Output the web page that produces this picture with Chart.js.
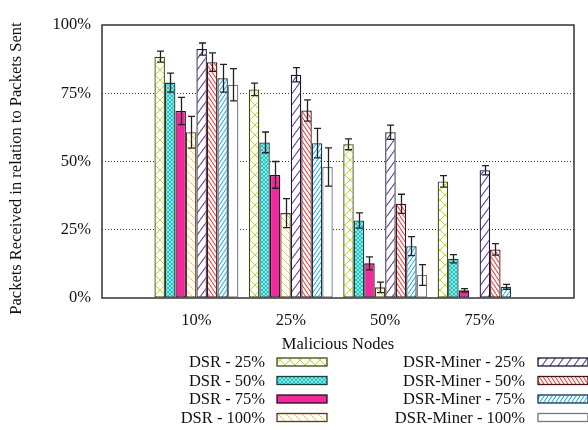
<!DOCTYPE html>
<html>
<head>
<meta charset="utf-8">
<script src="https://cdn.jsdelivr.net/npm/chart.js@4.4.0/dist/chart.umd.min.js"></script>
<style>
  body { margin: 0; background: #fff; }
  #wrap { width: 588px; height: 430px; }
</style>
</head>
<body>
<div id="wrap"><canvas id="myChart"></canvas></div>
<script>
// data
const grupos = ['10%', '25%', '50%', '75%'];
const yTicks = [0, 25, 50, 75, 100];
const yTitulo = 'Packets Received in relation to Packets Sent';

const dsr25 = [88.4, 76.4, 56.3, 42.7];
const dsr50 = [78.9, 57.0, 28.4, 14.4];
const dsr75 = [68.5, 45.1, 12.7, 2.8];
const dsr100 = [60.7, 31.1, 3.9, 0];
const miner25 = [91.2, 81.8, 60.7, 46.8];
const miner50 = [86.4, 68.7, 34.5, 17.8];
const miner75 = [80.5, 56.7, 19.0, 4.1];
const miner100 = [78.1, 48.0, 8.4, 0];

const dsr25Err = [2.0, 2.3, 2.0, 2.1];
const dsr50Err = [3.5, 3.8, 2.8, 1.5];
const dsr75Err = [5.0, 4.9, 2.4, 0.6];
const dsr100Err = [5.8, 5.3, 1.9, 0];
const miner25Err = [2.2, 2.6, 2.6, 1.7];
const miner50Err = [3.4, 3.9, 3.5, 2.1];
const miner75Err = [5.1, 5.4, 3.5, 0.9];
const miner100Err = [5.9, 7.0, 3.8, 0];

const FONT = "'Liberation Serif', 'Times New Roman', serif";
const FSIZE = 16.5;

// patterns
function tile(w, h, paint) {
  const c = document.createElement('canvas');
  c.width = w; c.height = h;
  const g = c.getContext('2d');
  g.fillStyle = '#fff';
  g.fillRect(0, 0, w, h);
  paint(g, w, h);
  return g.createPattern(c, 'repeat');
}
function rayas(color, lw, dir) {
  return (g, w, h) => {
    g.strokeStyle = color;
    g.lineWidth = lw;
    g.beginPath();
    for (let k = -1; k <= 1; k++) {
      if (dir === '/') { g.moveTo(k * w, h); g.lineTo(k * w + w, 0); }
      else { g.moveTo(k * w, 0); g.lineTo(k * w + w, h); }
    }
    g.stroke();
  };
}
function cruz(color, lw) {
  const a = rayas(color, lw, '/'), b = rayas(color, lw, '\\');
  return (g, w, h) => { a(g, w, h); b(g, w, h); };
}

const series = [
  { label: 'DSR - 25%', vals: dsr25, err: dsr25Err, fill: tile(10, 10, cruz('#b9e22a', 1)), border: '#3e4812' },
  { label: 'DSR - 50%', vals: dsr50, err: dsr50Err, fill: tile(4, 4, cruz('#1ec8c4', 1.4)), border: '#183f3e' },
  { label: 'DSR - 75%', vals: dsr75, err: dsr75Err, fill: '#f02a9c', border: '#2e0c1e' },
  { label: 'DSR - 100%', vals: dsr100, err: dsr100Err, fill: tile(8, 8, rayas('#f4cc3a', 1, '\\')), border: '#4e4010' },
  { label: 'DSR-Miner - 25%', vals: miner25, err: miner25Err, fill: tile(8, 11, rayas('#6445a4', 1.1, '/')), border: '#1c1630' },
  { label: 'DSR-Miner - 50%', vals: miner50, err: miner50Err, fill: tile(4, 6, rayas('#f04848', 1.1, '\\')), border: '#4a1010' },
  { label: 'DSR-Miner - 75%', vals: miner75, err: miner75Err, fill: tile(4, 6, rayas('#34b4f0', 1.1, '/')), border: '#12344a' },
  { label: 'DSR-Miner - 100%', vals: miner100, err: miner100Err, fill: '#ffffff', border: '#777777' },
];

const data = {
  labels: ['', ...grupos, ''],
  datasets: series.map((s) => {
    return {
      label: s.label,
      data: [null, ...s.vals, null],
      errores: [null, ...s.err, null],
      backgroundColor: s.fill,
      borderColor: s.border,
      borderWidth: 1.3,
      borderSkipped: false,
    };
  }),
};

// error bars on top of the bars
const errorBars = {
  id: 'errorBars',
  afterDatasetsDraw(chart) {
    const ctx = chart.ctx;
    const y = chart.scales.y;
    ctx.save();
    ctx.strokeStyle = '#222';
    ctx.lineWidth = 1.3;
    chart.data.datasets.forEach((ds, i) => {
      const meta = chart.getDatasetMeta(i);
      meta.data.forEach((bar, j) => {
        const v = ds.data[j], e = ds.errores[j];
        if (v == null || !e) return;
        const x = Math.round(bar.x) + 0.5;
        const t = y.getPixelForValue(v + e), b = y.getPixelForValue(v - e);
        ctx.beginPath();
        ctx.moveTo(x, t); ctx.lineTo(x, b);
        ctx.moveTo(x - 3.5, t); ctx.lineTo(x + 3.5, t);
        ctx.moveTo(x - 3.5, b); ctx.lineTo(x + 3.5, b);
        ctx.stroke();
      });
    });
    ctx.restore();
  },
};

// box round the plot, y title, legend underneath
const marco = {
  id: 'marco',
  afterDraw(chart) {
    const { ctx, chartArea: a } = chart;
    ctx.save();
    ctx.strokeStyle = '#333';
    ctx.lineWidth = 1.5;
    ctx.strokeRect(a.left, a.top, a.right - a.left, a.bottom - a.top);

    ctx.font = FSIZE + 'px ' + FONT;
    ctx.fillStyle = '#111';

    ctx.save();
    ctx.translate(17, (a.top + a.bottom) / 2 + 7);
    ctx.rotate(-Math.PI / 2);
    ctx.textAlign = 'center';
    ctx.textBaseline = 'middle';
    ctx.fillText(yTitulo, 0, 0);
    ctx.restore();

    ctx.textAlign = 'right';
    ctx.textBaseline = 'middle';
    chart.data.datasets.forEach((ds, i) => {
      const col = Math.floor(i / 4), row = i % 4;
      const yc = 362 + row * 18.5;
      const tx = col === 0 ? 265 : 525;
      const bx = col === 0 ? 277 : 538;
      ctx.fillText(ds.label, tx, yc + 1);
      ctx.fillStyle = ds.backgroundColor;
      ctx.fillRect(bx, yc - 4, 50, 8);
      ctx.strokeStyle = ds.borderColor;
      ctx.lineWidth = 1.3;
      ctx.strokeRect(bx, yc - 4, 50, 8);
      ctx.fillStyle = '#111';
    });
    ctx.restore();
  },
};

const config = {
  type: 'bar',
  data,
  options: {
    responsive: true,
    maintainAspectRatio: false,
    animation: false,
    layout: { padding: { top: 25, right: 14, left: 0, bottom: 75 } },
    datasets: { bar: { categoryPercentage: 8 / 9, barPercentage: 1 } },
    scales: {
      x: {
        offset: false,
        grid: { display: false },
        border: { display: false },
        ticks: { color: '#111', font: { family: FONT, size: FSIZE }, padding: 5, maxRotation: 0, autoSkip: false },
        title: { display: true, text: 'Malicious Nodes', color: '#111', font: { family: FONT, size: FSIZE }, padding: { top: 0, bottom: 0 } },
        afterFit: (s) => { s.height = 57; },
      },
      y: {
        min: 0,
        max: 100,
        border: { display: false, dash: [1, 2] },
        afterBuildTicks: (s) => { s.ticks = yTicks.map((v) => ({ value: v })); },
        grid: {
          drawTicks: false,
          lineWidth: 1,
          color: (c) => (c.tick && (c.tick.value === 0 || c.tick.value === 100) ? 'rgba(0,0,0,0)' : '#333'),
        },
        ticks: { color: '#111', font: { family: FONT, size: FSIZE }, padding: 11, callback: (v) => v + '%' },
        afterFit: (s) => { s.width = 102; },
      },
    },
    plugins: {
      legend: { display: false },
      tooltip: { enabled: false },
    },
  },
  plugins: [errorBars, marco],
};

const myChart = new Chart(document.getElementById('myChart'), config);
</script>
</body>
</html>
